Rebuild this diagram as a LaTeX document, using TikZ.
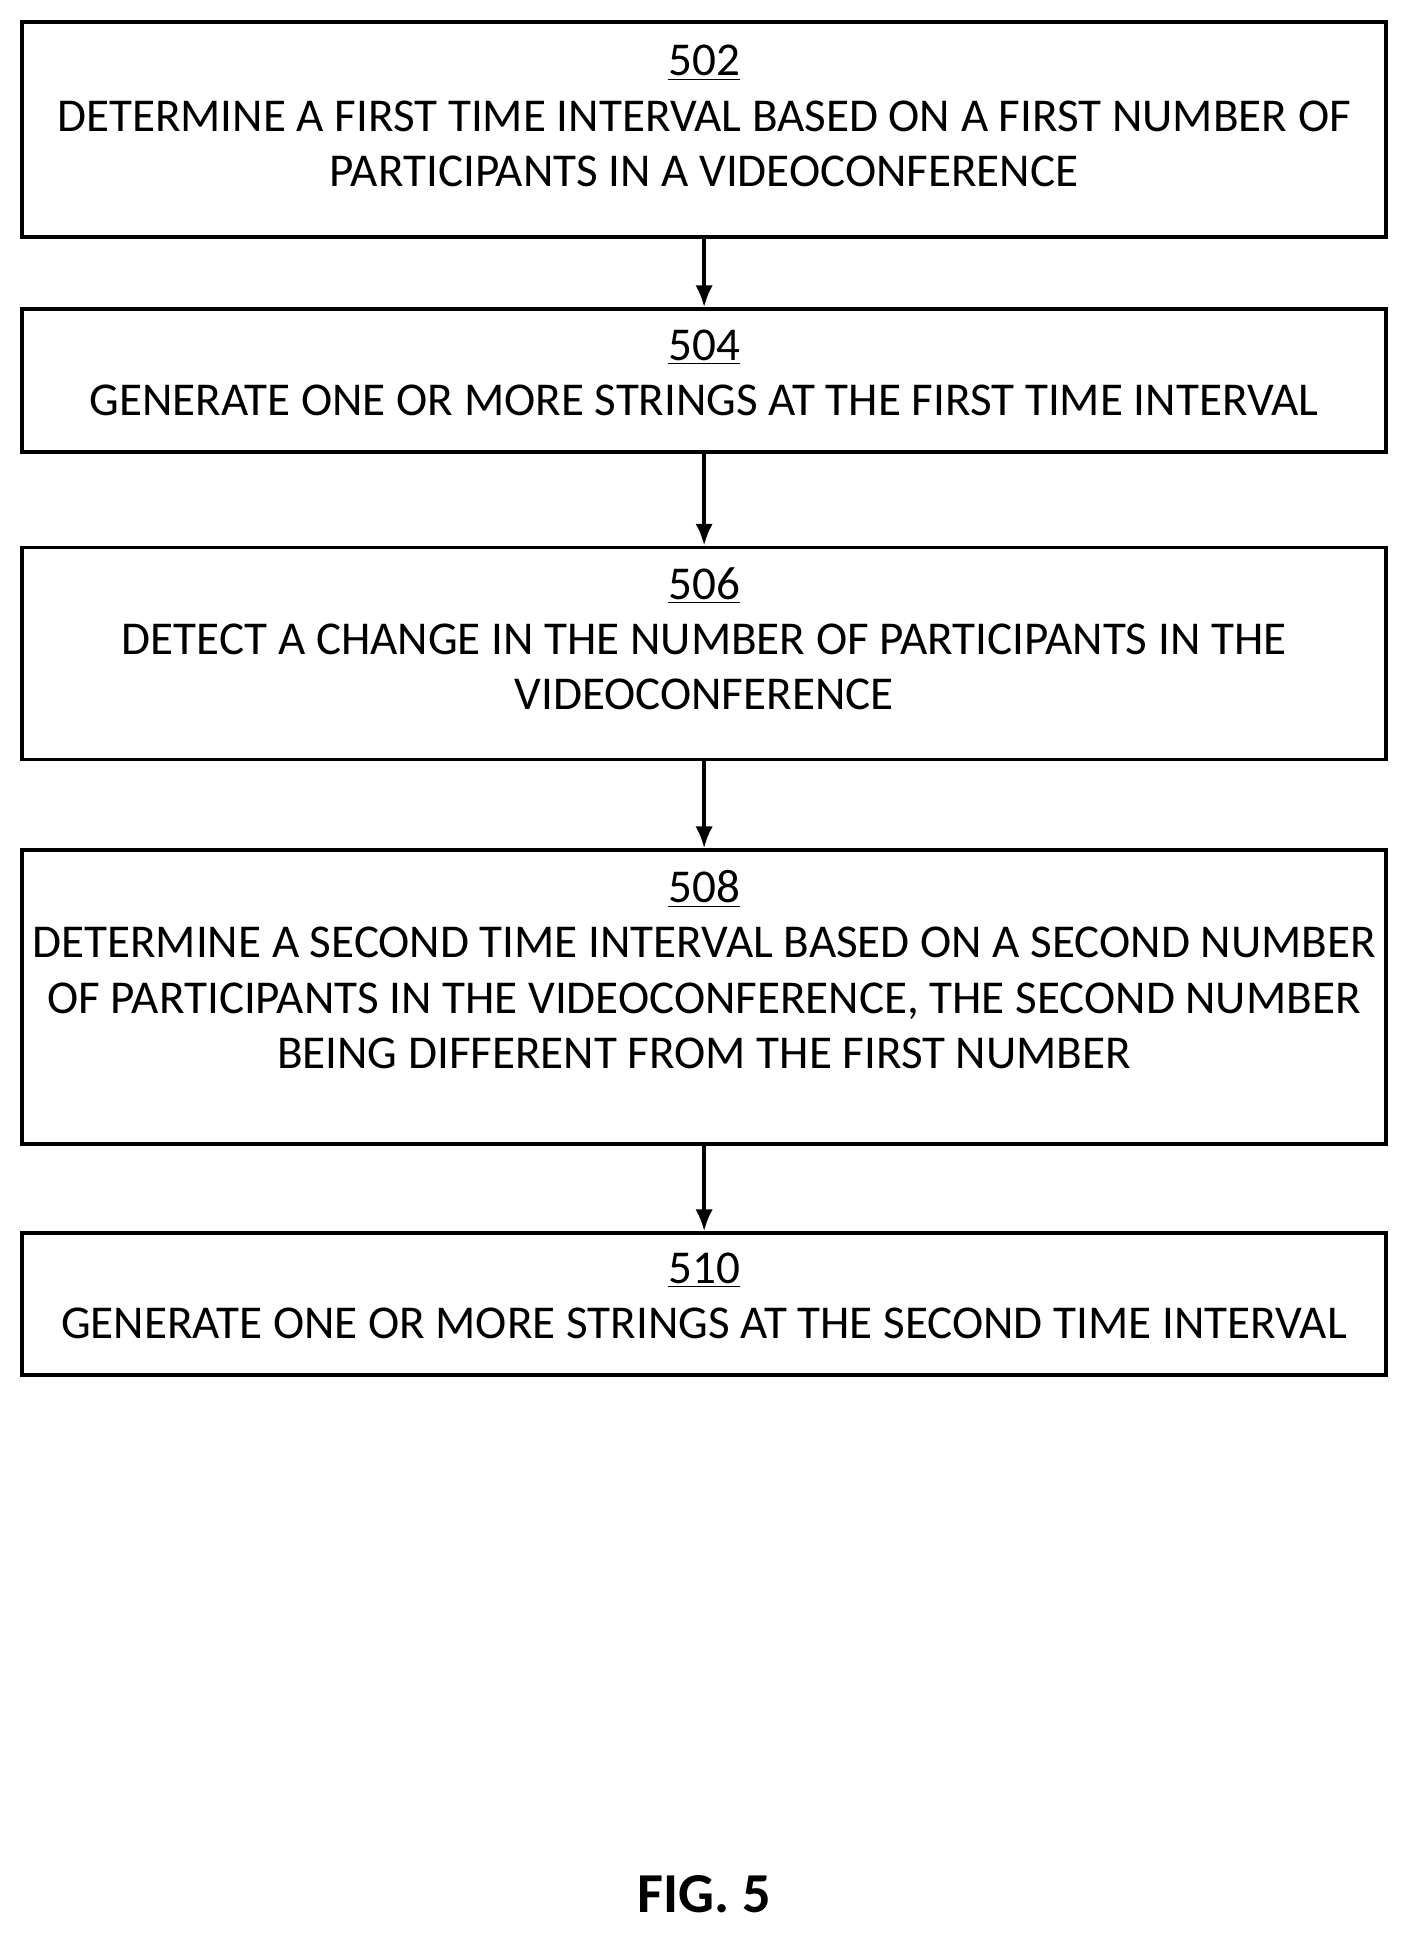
\documentclass[tikz,border=0pt]{standalone}
\usepackage{fontspec}
\setmainfont{Carlito}
\usetikzlibrary{arrows.meta}
\begin{document}
\begin{tikzpicture}[x=0.02cm,y=-0.02cm,
  box/.style={draw,line width=1.6pt,minimum width=1104*0.02cm,inner sep=0pt},
  txt/.style={align=center,font=\fontsize{21.7}{25.5}\selectfont,inner sep=0pt},
  arr/.style={-{Latex[length=10pt,width=8pt]},line width=1.6pt}]
\useasboundingbox (0,0) rectangle (1140,1568);
\node[box,minimum height=174*0.02cm] (b1) at (570,105) {};
\node[box,minimum height=116*0.02cm] (b2) at (570,308) {};
\node[box,minimum height=172*0.02cm] (b3) at (570,529) {};
\node[box,minimum height=238*0.02cm] (b4) at (570,807) {};
\node[box,minimum height=115*0.02cm] (b5) at (570,1055.5) {};
\node[txt] (t1) at (570,94) {\underline{502}\\DETERMINE A FIRST TIME INTERVAL BASED ON A FIRST NUMBER OF\\PARTICIPANTS IN A VIDEOCONFERENCE};
\node[txt] (t2) at (570,302) {\underline{504}\\GENERATE ONE OR MORE STRINGS AT THE FIRST TIME INTERVAL};
\node[txt] (t3) at (570,517) {\underline{506}\\DETECT A CHANGE IN THE NUMBER OF PARTICIPANTS IN THE\\VIDEOCONFERENCE};
\node[txt] (t4) at (570,785) {\underline{508}\\DETERMINE A SECOND TIME INTERVAL BASED ON A SECOND NUMBER\\OF PARTICIPANTS IN THE VIDEOCONFERENCE, THE SECOND NUMBER\\BEING DIFFERENT FROM THE FIRST NUMBER};
\node[txt] (t5) at (570,1049) {\underline{510}\\GENERATE ONE OR MORE STRINGS AT THE SECOND TIME INTERVAL};
\node[font=\bfseries\fontsize{26}{30}\selectfont] (fig) at (570,1533) {FIG. 5};
\draw[arr] (b1) -- (b2);
\draw[arr] (b2) -- (b3);
\draw[arr] (b3) -- (b4);
\draw[arr] (b4) -- (b5);
\end{tikzpicture}
\end{document}
